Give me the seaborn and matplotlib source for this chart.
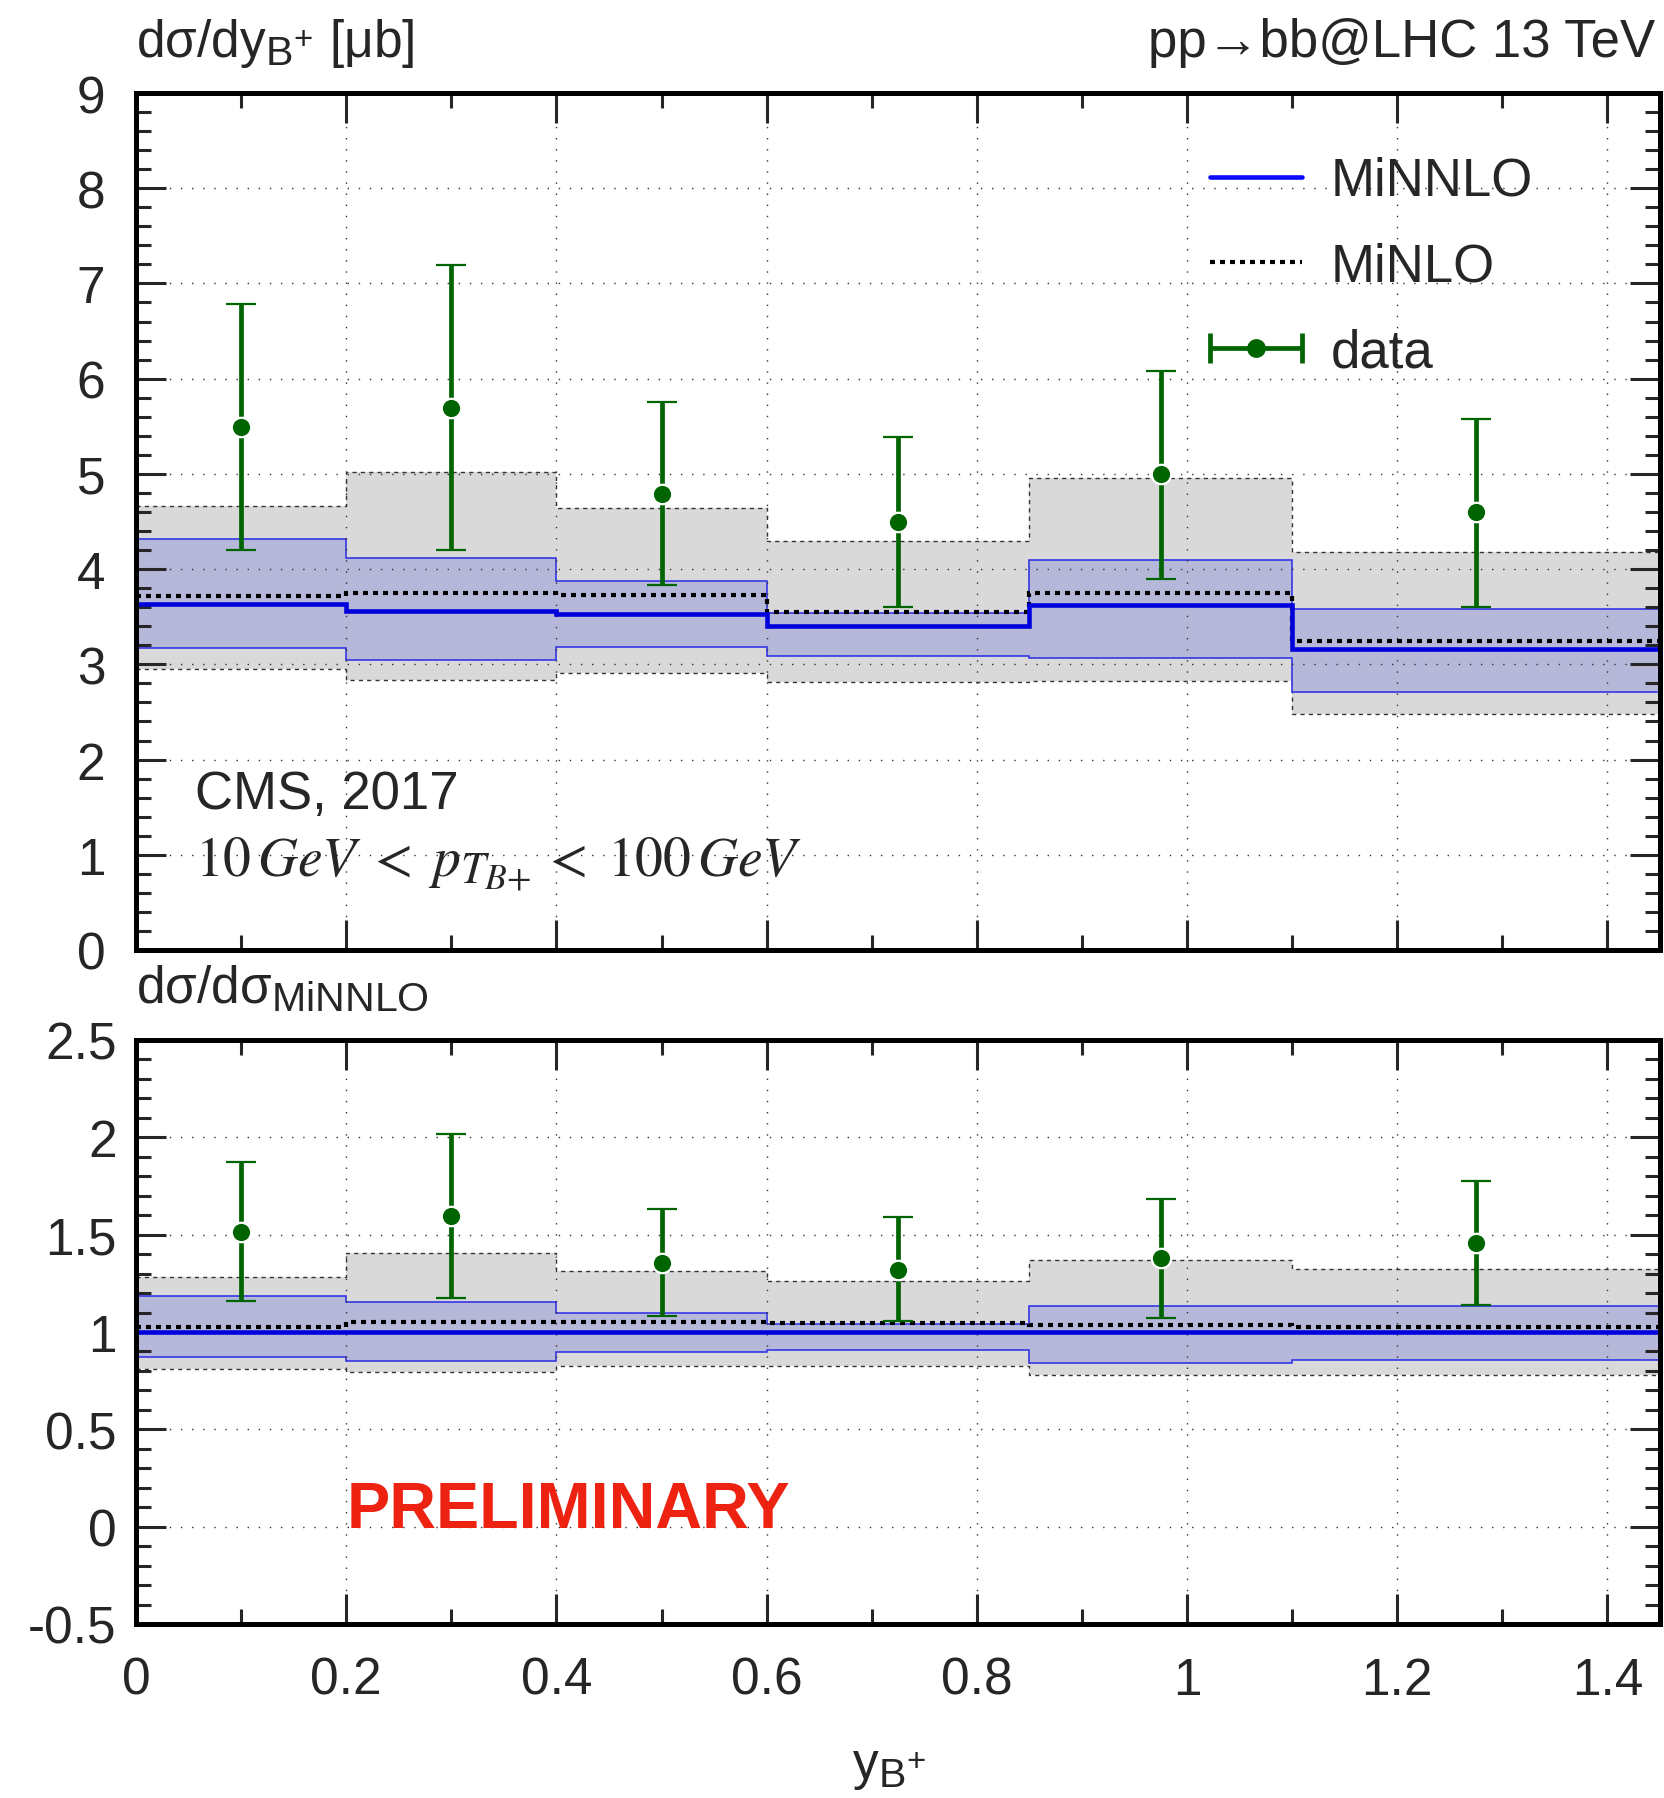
import numpy as np
import matplotlib
matplotlib.use("Agg")
import matplotlib.pyplot as plt
import seaborn as sns
from matplotlib.ticker import MultipleLocator, FuncFormatter
from matplotlib.legend_handler import HandlerErrorbar
from matplotlib.container import ErrorbarContainer
from matplotlib.lines import Line2D

try:
    import matplotlib._mathtext as _mt
    _mt.SHRINK_FACTOR = 0.8
except Exception:
    pass

# ---------------- data ----------------
edges = [0.0, 0.2, 0.4, 0.6, 0.85, 1.1, 1.45]
bin_centers = [0.1, 0.3, 0.5, 0.725, 0.975, 1.275]

minnlo = [3.63, 3.565, 3.53, 3.40, 3.625, 3.157]
minnlo_lo = [3.17, 3.05, 3.185, 3.09, 3.07, 2.71]
minnlo_hi = [4.32, 4.12, 3.88, 3.54, 4.10, 3.58]
minlo = [3.72, 3.75, 3.725, 3.55, 3.75, 3.24]
minlo_lo = [2.955, 2.835, 2.91, 2.81, 2.82, 2.475]
minlo_hi = [4.665, 5.02, 4.64, 4.29, 4.96, 4.18]
data = [5.49, 5.69, 4.79, 4.49, 5.0, 4.6]
data_lo = [4.2, 4.2, 3.83, 3.6, 3.9, 3.6]
data_hi = [6.78, 7.19, 5.76, 5.39, 6.08, 5.58]

ratio_minnlo = [1.0, 1.0, 1.0, 1.0, 1.0, 1.0]
ratio_minnlo_lo = [0.873, 0.852, 0.898, 0.907, 0.843, 0.857]
ratio_minnlo_hi = [1.186, 1.153, 1.096, 1.04, 1.131, 1.134]
ratio_minlo = [1.024, 1.05, 1.053, 1.044, 1.034, 1.024]
ratio_minlo_lo = [0.811, 0.792, 0.823, 0.824, 0.778, 0.781]
ratio_minlo_hi = [1.284, 1.406, 1.313, 1.262, 1.37, 1.325]
ratio_data = [1.513, 1.597, 1.356, 1.321, 1.38, 1.456]
ratio_data_lo = [1.157, 1.174, 1.081, 1.057, 1.074, 1.139]
ratio_data_hi = [1.874, 2.019, 1.63, 1.592, 1.685, 1.775]

# ---------------- style ----------------
sns.set_theme(style="ticks")
plt.rcParams["font.family"] = ["Liberation Sans", "DejaVu Sans"]
plt.rcParams["axes.unicode_minus"] = False
plt.rcParams["mathtext.fontset"] = "custom"
plt.rcParams["mathtext.rm"] = "Liberation Sans"
plt.rcParams["mathtext.it"] = "Liberation Sans:italic"
plt.rcParams["mathtext.bf"] = "Liberation Sans:bold"
plt.rcParams["mathtext.sf"] = "Liberation Sans"

FS = 37
BLUE = "#0000dc"
BLUE_EDGE = "#2a2ae6"
BLUE_FILL = "#b6b8d9"
GREY_FILL = "#d9d9d9"
GREEN = "#006400"

fig = plt.figure(figsize=(16.65, 17.99), dpi=100)
W, H = 1665.0, 1799.0
L, R = 136.0, 1660.0
ax1 = fig.add_axes([L / W, 1 - 951 / H, (R - L) / W, (951 - 94) / H])
ax2 = fig.add_axes([L / W, 1 - 1625 / H, (R - L) / W, (1625 - 1041) / H])


def draw_panel(ax, cen, cen_lo, cen_hi, nlo, nlo_lo, nlo_hi, d, d_lo, d_hi, ypad):
    # MiNLO band (grey) with dashed edges
    ax.stairs(nlo_hi, edges, baseline=nlo_lo, fill=True, color=GREY_FILL, lw=0, zorder=0.5)
    for arr in (nlo_hi, nlo_lo):
        ax.stairs(arr, edges, baseline=None, color="#333333", lw=1.0,
                  linestyle=(0, (3, 3)), zorder=0.7)
    # MiNNLO band (blue)
    ax.stairs(cen_hi, edges, baseline=cen_lo, fill=True, color=BLUE_FILL, lw=0, zorder=0.8)
    for arr in (cen_hi, cen_lo):
        ax.stairs(arr, edges, baseline=None, color=BLUE_EDGE, lw=1.1, zorder=0.9)
    # central lines
    ax.stairs(nlo, edges, baseline=None, color="black", lw=3.0,
              linestyle=(0, (1.2, 1.2)), zorder=3)
    ax.stairs(cen, edges, baseline=None, color=BLUE, lw=3.3, zorder=3.5)
    # data
    d = np.asarray(d)
    yerr = [d - np.asarray(d_lo), np.asarray(d_hi) - d]
    ax.errorbar(bin_centers, d, yerr=yerr, fmt="o", color=GREEN, ms=14,
                mec="white", mew=1.6, elinewidth=3.4, capsize=11, capthick=3.4, zorder=5)

    ax.set_xlim(0, 1.45)
    ax.xaxis.set_major_locator(MultipleLocator(0.2))
    ax.xaxis.set_minor_locator(MultipleLocator(0.1))
    ax.set_axisbelow("line")
    ax.grid(True, which="major", color="#333333", lw=1.0, linestyle=(0, (1, 7)))
    ax.tick_params(which="both", direction="in", top=True, right=True,
                   labelsize=FS, width=2.2)
    ax.tick_params(axis="x", pad=23)
    ax.tick_params(axis="y", pad=ypad)
    ax.tick_params(which="major", length=21.5)
    ax.tick_params(which="minor", length=10.8)
    for sp in ax.spines.values():
        sp.set_linewidth(3.6)
        sp.set_color("black")
        sp.set_zorder(10)
    ax.xaxis.set_major_formatter(FuncFormatter(lambda v, p: "%g" % round(v, 3)))
    ax.yaxis.set_major_formatter(FuncFormatter(lambda v, p: "%g" % round(v, 3)))


draw_panel(ax1, minnlo, minnlo_lo, minnlo_hi, minlo, minlo_lo, minlo_hi,
           data, data_lo, data_hi, 22)
draw_panel(ax2, ratio_minnlo, ratio_minnlo_lo, ratio_minnlo_hi, ratio_minlo,
           ratio_minlo_lo, ratio_minlo_hi, ratio_data, ratio_data_lo, ratio_data_hi, 14)

ax1.set_ylim(0, 9)
ax1.yaxis.set_major_locator(MultipleLocator(1))
ax1.yaxis.set_minor_locator(MultipleLocator(0.2))
ax1.tick_params(labelbottom=False)

ax2.set_ylim(-0.5, 2.5)
ax2.yaxis.set_major_locator(MultipleLocator(0.5))
ax2.yaxis.set_minor_locator(MultipleLocator(0.1))

# legend
h_nnlo = Line2D([], [], color="#0a0aff", lw=3.3)
h_nlo = Line2D([], [], color="black", lw=3.0, linestyle=(0, (1.2, 1.2)))
h_data = ax1.errorbar([np.nan], [np.nan], xerr=[[1.0], [1.0]], fmt="o", color=GREEN,
                      ms=12.5, elinewidth=3.4, capsize=11, capthick=3.4)
LFS = 38
HL = 1.74
ax1.legend([h_nnlo, h_nlo, h_data], ["MiNNLO", "MiNLO", "data"],
           loc="upper left", bbox_to_anchor=((1210 - L) / (R - L), (951 - 157) / 857.0),
           frameon=False, fontsize=LFS, handlelength=HL, handletextpad=0.55,
           labelspacing=0.68, borderpad=0, borderaxespad=0, numpoints=1,
           handler_map={ErrorbarContainer: HandlerErrorbar(xerr_size=HL / 2)})

# texts
ax1.text(0, 1 + (94 - 57) / 857.0, "dσ/dy$_{\\mathrm{B^{+}}}$ [μb]", transform=ax1.transAxes,
         fontsize=FS, ha="left", va="baseline")
ax1.text((1655 - L) / (R - L), 1 + (94 - 57) / 857.0, "pp→bb@LHC 13 TeV",
         transform=ax1.transAxes, fontsize=FS + 1, ha="right", va="baseline")
ax1.text(0.056, 1.49, "CMS, 2017", fontsize=38, ha="left", va="baseline")
ax1.text(0.056, 0.79, r"$10\,GeV\;<\;p_{T_{B{+}}}\,<\;100\,GeV$", fontsize=40,
         ha="left", va="baseline", math_fontfamily="stix")
ax2.text(0, 1 + (1041 - 1003) / 584.0, "dσ/dσ$_{\\mathrm{MiNNLO}}$", transform=ax2.transAxes,
         fontsize=FS, ha="left", va="baseline")
ax2.text(0.2, 0.0, "PRELIMINARY", fontsize=46.5, fontweight="bold", color="#ed2211",
         ha="left", va="baseline")
fig.text(889 / W, 1 - 1779 / H, "y$_{\\mathrm{B^{+}}}$", fontsize=FS, ha="center", va="baseline")

fig.savefig("out.png", dpi=100)
